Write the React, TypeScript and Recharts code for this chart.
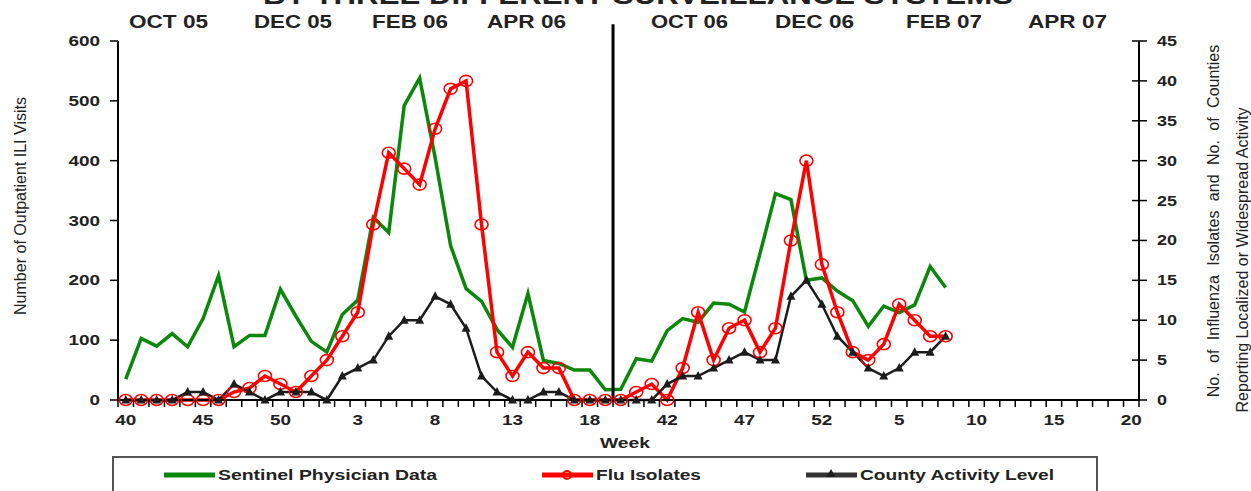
import React from "react";
import { LineChart, Line, XAxis, YAxis, ReferenceLine } from "recharts";

// week numbers for 2005-06 and 2006-07 seasons
const WEEK_LABELS = [
  "40", "41", "42", "43", "44", "45", "46", "47", "48", "49", "50", "51", "52",
  "1", "2", "3", "4", "5", "6", "7", "8", "9", "10", "11", "12", "13", "14", "15", "16", "17", "18", "19", "20",
  "40", "41", "42", "43", "44", "45", "46", "47", "48", "49", "50", "51", "52",
  "1", "2", "3", "4", "5", "6", "7", "8", "9", "10", "11", "12", "13", "14", "15", "16", "17", "18", "19", "20",
];

// outpatient ILI visits (left axis)
const SENTINEL = [
  35, 103, 90, 111, 89, 136, 208, 89, 108, 108,
  185, 140, 98, 80, 143, 167, 305, 280, 492, 538,
  405, 258, 186, 165, 118, 88, 178, 66, 61, 50,
  50, 17, 18, 69, 65, 116, 136, 130, 162, 160,
  147, 245, 345, 335, 200, 204, 182, 166, 123, 157,
  146, 159, 223, 188,
];

// flu isolates (right axis)
const FLU_ISOLATES = [
  0, 0, 0, 0, 0, 0, 0, 1, 1.5, 3,
  2, 1, 3, 5, 8, 11, 22, 31, 29, 27,
  34, 39, 40, 22, 6, 3, 6, 4, 4, 0,
  0, 0, 0, 1, 2, 0, 4, 11, 5, 9,
  10, 6, 9, 20, 30, 17, 11, 6, 5, 7,
  12, 10, 8, 8,
];

// counties reporting localized / widespread activity (right axis)
const COUNTY_ACTIVITY = [
  0, 0, 0, 0, 1, 1, 0, 2, 1, 0,
  1, 1, 1, 0, 3, 4, 5, 8, 10, 10,
  13, 12, 9, 3, 1, 0, 0, 1, 1, 0,
  0, 0, 0, 0, 0, 2, 3, 3, 4, 5,
  6, 5, 5, 13, 15, 12, 8, 6, 4, 3,
  4, 6, 6, 8,
];

const LEFT_TICKS = [0, 100, 200, 300, 400, 500, 600];
const RIGHT_TICKS = [0, 5, 10, 15, 20, 25, 30, 35, 40, 45];
const MONTHS = ["OCT 05", "DEC 05", "FEB 06", "APR 06", "OCT 06", "DEC 06", "FEB 07", "APR 07"];
const SEASON_BREAK = 31.5; // divider between the two seasons (between week slots)

const TITLE = "BY THREE DIFFERENT SURVEILLANCE SYSTEMS";
const LEFT_LABEL = "Number of Outpatient ILI Visits";
const RIGHT_LABEL_1 = "No. of Influenza Isolates and No. of Counties";
const RIGHT_LABEL_2 = "Reporting Localized or Widespread Activity";

// layout
const W = 1251;
const H = 491;
const PLOT_LEFT = 118;
const PLOT_RIGHT = 1139;
const PLOT_TOP = 41;
const PLOT_BOTTOM = 400;
const BAND = (PLOT_RIGHT - PLOT_LEFT) / WEEK_LABELS.length;
const FONT = "'Liberation Sans', Arial, Helvetica, sans-serif";
const MONTH_POS: [number, number][] = [
  [129, 79], [254, 78], [372, 76], [487, 79], [651, 77], [775, 79], [906, 76], [1028, 79],
];
// tick marks sit on the slot boundaries
const X_TICKS = WEEK_LABELS.map((_, i) => i - 0.5).concat(WEEK_LABELS.length - 0.5);

const GREEN = "#0b870b";
const RED = "#ff0000";
const BLACK = "#1c1c1c";

function XTick(props: any) {
  const { x, payload } = props;
  const k = payload.value + 0.5;
  const label = WEEK_LABELS[k];
  return (
    <g>
      <line x1={x} x2={x} y1={PLOT_BOTTOM} y2={PLOT_BOTTOM + 7} stroke="#000" strokeWidth={1.5} />
      {label !== undefined && k % 5 === 0 && (
        <text
          x={x + BAND / 2}
          y={PLOT_BOTTOM + 25}
          textAnchor="middle"
          fontFamily={FONT}
          fontWeight="bold"
          fontSize={14}
          fill="#222"
          textLength={label.length * 10.5}
          lengthAdjust="spacingAndGlyphs"
        >
          {label}
        </text>
      )}
    </g>
  );
}

function LeftTick(props: any) {
  const { x, y, payload } = props;
  const s = String(payload.value);
  return (
    <text
      x={x}
      y={y + 5}
      textAnchor="end"
      fontFamily={FONT}
      fontWeight="bold"
      fontSize={14}
      fill="#222"
      textLength={s.length * 10.5}
      lengthAdjust="spacingAndGlyphs"
    >
      {s}
    </text>
  );
}

function RightTick(props: any) {
  const { y, payload } = props;
  const s = String(payload.value);
  return (
    <g>
      <line x1={PLOT_RIGHT - 7} x2={PLOT_RIGHT + 8} y1={y} y2={y} stroke="#000" strokeWidth={1.5} />
      <text
        x={PLOT_RIGHT + 18}
        y={y + 5}
        textAnchor="start"
        fontFamily={FONT}
        fontWeight="bold"
        fontSize={14}
        fill="#222"
        textLength={s.length * 10}
        lengthAdjust="spacingAndGlyphs"
      >
        {s}
      </text>
    </g>
  );
}

function CircleDot(props: any) {
  const { cx, cy, index } = props;
  if (cy == null || cx == null) return <g key={`c-${index}`} />;
  return (
    <ellipse key={`c-${index}`} cx={cx} cy={cy} rx={6.5} ry={5.5} fill="none" stroke={RED} strokeWidth={1.6} />
  );
}

function TriangleDot(props: any) {
  const { cx, cy, index } = props;
  if (cy == null || cx == null) return <g key={`t-${index}`} />;
  return (
    <polygon
      key={`t-${index}`}
      points={`${cx},${cy - 5} ${cx - 4.5},${cy + 3.5} ${cx + 4.5},${cy + 3.5}`}
      fill={BLACK}
    />
  );
}

export default function App() {
  const data = WEEK_LABELS.map((week, i) => ({
    idx: i,
    week,
    sentinel: i < SENTINEL.length ? SENTINEL[i] : null,
    flu: i < FLU_ISOLATES.length ? FLU_ISOLATES[i] : null,
    county: i < COUNTY_ACTIVITY.length ? COUNTY_ACTIVITY[i] : null,
  }));

  const textBase = { fontFamily: FONT, fill: "#222" };

  return (
    <div style={{ position: "absolute", left: 0, top: 0, width: W, height: H, background: "#fff" }}>
      <LineChart
        width={W}
        height={H}
        data={data}
        margin={{ top: PLOT_TOP, right: W - PLOT_RIGHT - 60, bottom: H - PLOT_BOTTOM - 40, left: PLOT_LEFT - 60 }}
      >
        <XAxis
          dataKey="idx"
          type="number"
          domain={[-0.5, WEEK_LABELS.length - 0.5]}
          ticks={X_TICKS}
          interval={0}
          allowDecimals
          height={40}
          axisLine={{ stroke: "#000", strokeWidth: 2 }}
          tickLine={false}
          tick={(p: any) => <XTick {...p} />}
        />
        <YAxis
          yAxisId="left"
          width={60}
          domain={[0, 600]}
          ticks={LEFT_TICKS}
          interval={0}
          axisLine={{ stroke: "#000", strokeWidth: 2 }}
          tickLine={{ stroke: "#000", strokeWidth: 1.5 }}
          tickSize={8}
          tickMargin={10}
          tick={(p: any) => <LeftTick {...p} />}
        />
        <YAxis
          yAxisId="right"
          orientation="right"
          width={60}
          domain={[0, 45]}
          ticks={RIGHT_TICKS}
          interval={0}
          axisLine={{ stroke: "#000", strokeWidth: 2 }}
          tickLine={false}
          tick={(p: any) => <RightTick {...p} />}
        />
        <Line
          yAxisId="left"
          dataKey="sentinel"
          stroke={GREEN}
          strokeWidth={3.5}
          dot={false}
          isAnimationActive={false}
        />
        <Line
          yAxisId="right"
          dataKey="flu"
          stroke={RED}
          strokeWidth={3.5}
          dot={(p: any) => <CircleDot key={`c-${p.index}`} {...p} />}
          isAnimationActive={false}
        />
        <Line
          yAxisId="right"
          dataKey="county"
          stroke={BLACK}
          strokeWidth={2.5}
          dot={(p: any) => <TriangleDot key={`t-${p.index}`} {...p} />}
          isAnimationActive={false}
        />
        <ReferenceLine
          yAxisId="left"
          segment={[{ x: SEASON_BREAK, y: 0 }, { x: SEASON_BREAK, y: 628 }]}
          stroke="#000"
          strokeWidth={3}
          ifOverflow="visible"
        />
      </LineChart>

      <svg
        width={W}
        height={H}
        style={{ position: "absolute", left: 0, top: 0, pointerEvents: "none" }}
      >
        <text
          x={263}
          y={4}
          {...textBase}
          fontWeight="bold"
          fontSize={26}
          textLength={750}
          lengthAdjust="spacingAndGlyphs"
        >
          {TITLE}
        </text>
        {MONTHS.map((m, i) => (
          <text
            key={m}
            x={MONTH_POS[i][0]}
            y={28}
            {...textBase}
            fontWeight="bold"
            fontSize={18}
            textLength={MONTH_POS[i][1]}
            lengthAdjust="spacingAndGlyphs"
          >
            {m}
          </text>
        ))}
        <text
          x={625}
          y={448}
          textAnchor="middle"
          {...textBase}
          fontWeight="bold"
          fontSize={14}
          textLength={50}
          lengthAdjust="spacingAndGlyphs"
        >
          Week
        </text>
        <text
          transform="translate(26,206) rotate(-90)"
          textAnchor="middle"
          {...textBase}
          fontSize={16}
          textLength={218}
          lengthAdjust="spacingAndGlyphs"
        >
          {LEFT_LABEL}
        </text>
        <text
          transform="translate(1219,221) rotate(-90)"
          textAnchor="middle"
          {...textBase}
          fontSize={16}
          wordSpacing={5}
        >
          {RIGHT_LABEL_1}
        </text>
        <text
          transform="translate(1248,260) rotate(-90)"
          textAnchor="middle"
          {...textBase}
          fontSize={16}
          textLength={305}
          lengthAdjust="spacingAndGlyphs"
        >
          {RIGHT_LABEL_2}
        </text>

        {/* legend box */}
        <rect x={113} y={457} width={984} height={60} fill="#fff" stroke="#555" strokeWidth={2} />
        <line x1={164} x2={215} y1={475} y2={475} stroke={GREEN} strokeWidth={5} />
        <text x={218} y={480} {...textBase} fontWeight="bold" fontSize={14} textLength={219} lengthAdjust="spacingAndGlyphs">
          Sentinel Physician Data
        </text>
        <line x1={542} x2={593} y1={475} y2={475} stroke={RED} strokeWidth={5} />
        <circle cx={567} cy={475} r={4} fill="none" stroke={RED} strokeWidth={2} />
        <text x={596} y={480} {...textBase} fontWeight="bold" fontSize={14} textLength={105} lengthAdjust="spacingAndGlyphs">
          Flu Isolates
        </text>
        <line x1={806} x2={857} y1={475} y2={475} stroke="#333" strokeWidth={5} />
        <polygon points="831,469 826.5,477 835.5,477" fill={BLACK} />
        <text x={860} y={480} {...textBase} fontWeight="bold" fontSize={14} textLength={194} lengthAdjust="spacingAndGlyphs">
          County Activity Level
        </text>
      </svg>
    </div>
  );
}
